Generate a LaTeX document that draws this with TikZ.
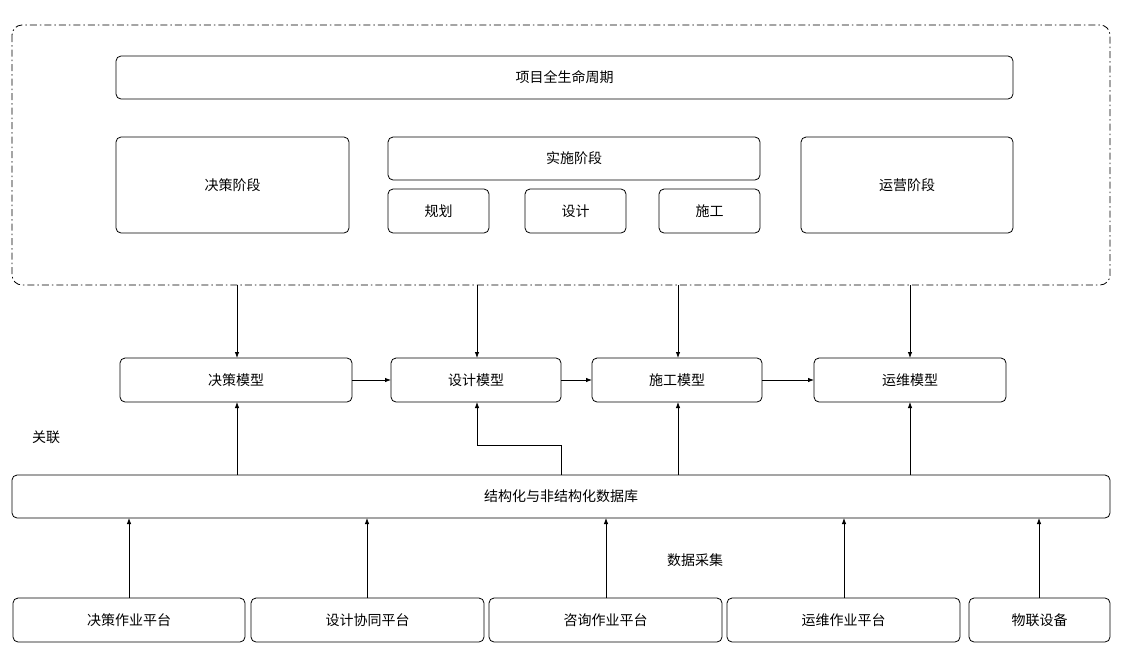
\documentclass[tikz,border=0pt]{standalone}
\usepackage{fontspec}
\setmainfont{Noto Sans CJK SC}
\usetikzlibrary{arrows.meta}
\begin{document}
\begin{tikzpicture}[x=1pt,y=-1pt,
  bx/.style={draw=black,rounded corners=5pt,line width=0.8pt},
  lb/.style={font=\fontsize{14}{16}\selectfont},
  ar/.style={-{Latex[length=6pt,width=4.5pt]},line width=0.8pt}]
\useasboundingbox[fill=white] (0,0) rectangle (1121,654);
\draw[line width=0.8pt,rounded corners=10pt,dash pattern=on 7pt off 3pt on 1.5pt off 3pt] (12,25) rectangle (1110,285);
\coordinate (top) at (12,25);
\draw[bx] (116,56) rectangle node[lb] (lc) {项目全生命周期} (1013,99);
\draw[bx] (116,137) rectangle node[lb] (jc) {决策阶段} (349,233);
\draw[bx] (388,137) rectangle node[lb] (ss) {实施阶段} (760,180);
\draw[bx] (388,189) rectangle node[lb] (gh) {规划} (489,233);
\draw[bx] (525,189) rectangle node[lb] (sj) {设计} (626,233);
\draw[bx] (659,189) rectangle node[lb] (sg) {施工} (760,233);
\draw[bx] (801,137) rectangle node[lb] (yy) {运营阶段} (1013,233);
\draw[bx] (120,358) rectangle node[lb] (m1) {决策模型} (352,402);
\draw[bx] (391,358) rectangle node[lb] (m2) {设计模型} (561,402);
\draw[bx] (592,358) rectangle node[lb] (m3) {施工模型} (762,402);
\draw[bx] (814,358) rectangle node[lb] (m4) {运维模型} (1006,402);
\draw[bx] (12,475) rectangle node[lb] (db) {结构化与非结构化数据库} (1110,518);
\draw[bx] (13,598) rectangle node[lb] (p1) {决策作业平台} (245,642);
\draw[bx] (251,598) rectangle node[lb] (p2) {设计协同平台} (484,642);
\draw[bx] (489,598) rectangle node[lb] (p3) {咨询作业平台} (722,642);
\draw[bx] (727,598) rectangle node[lb] (p4) {运维作业平台} (960,642);
\draw[bx] (969,598) rectangle node[lb] (p5) {物联设备} (1110,642);
\node[lb] (gl) at (46,437) {关联};
\node[lb] (cj) at (695,560) {数据采集};
% top to models
\foreach \x in {237,477,678,910} \draw[ar] (\x,285) -- (\x,358);
% between models
\draw[ar] (352,380) -- (391,380);
\draw[ar] (561,380) -- (592,380);
\draw[ar] (762,380) -- (814,380);
% db to models
\draw[ar] (237,475) -- (237,402);
\draw[ar] (561,475) -- (561,445) -- (477,445) -- (477,402);
\draw[ar] (678,475) -- (678,402);
\draw[ar] (910,475) -- (910,402);
% platforms to db
\foreach \x in {129,367,606,844,1039} \draw[ar] (\x,598) -- (\x,518);
\end{tikzpicture}
\end{document}
